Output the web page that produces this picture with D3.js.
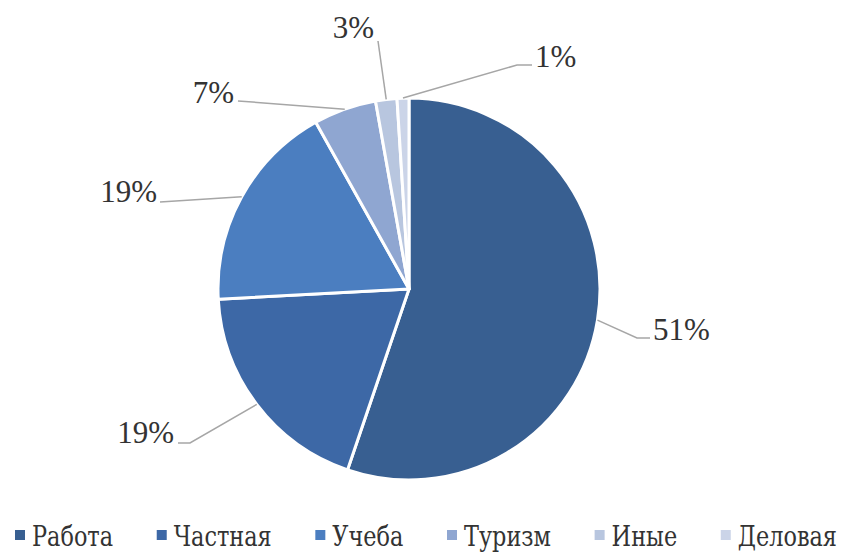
<!DOCTYPE html>
<html>
<head>
  <meta charset="UTF-8">
  <title>Цели поездок</title>
  <script src="https://d3js.org/d3.v7.min.js"></script>
  <style>
    body {
      margin: 0;
      background: #fff;
    }
    .leader {
      fill: none;
      stroke: #a6a6a6;
      stroke-width: 1.5;
    }
  </style>
</head>
<body>
  <svg id="chart" width="843" height="552"></svg>

  <script>
    // data (slice shares estimated from the angles)
    const categories = ["Работа", "Частная", "Учеба", "Туризм", "Иные", "Деловая"];
    const shares = [55.1, 18.9, 17.7, 5.3, 1.8, 1.0];
    const pctLabels = ["51%", "19%", "19%", "7%", "3%", "1%"];
    const colors = ["#385f91", "#3d68a6", "#4b7ec0", "#8fa6d1", "#b8c6df", "#cbd4e8"];

    // label placement (text anchor + leader elbow), kept apart from the data
    const labelLayout = [
      { x: 653, y: 340, anchor: "start", pts: [[637, 338], [650, 338]] },
      { x: 174, y: 443, anchor: "end", pts: [[190, 443], [178, 443]] },
      { x: 157, y: 202, anchor: "end", pts: [[160, 202]] },
      { x: 234, y: 103, anchor: "end", pts: [[238, 101]] },
      { x: 374, y: 38, anchor: "end", pts: [[378, 41]] },
      { x: 535, y: 67, anchor: "start", pts: [[517, 65], [532, 65]] }
    ];

    const svg = d3.select("#chart");
    const cx = 409, cy = 289, radius = 191;

    const data = categories.map((c, i) => ({ key: c, value: shares[i], label: pctLabels[i], i: i }));

    const pie = d3.pie()
      .value(d => d.value)
      .sort(null);

    const arc = d3.arc()
      .innerRadius(0)
      .outerRadius(radius);

    const arcs = pie(data);

    const g = svg.append("g")
      .attr("transform", `translate(${cx},${cy})`);

    g.selectAll("path.slice")
      .data(arcs)
      .enter().append("path")
      .attr("class", "slice")
      .attr("d", arc)
      .attr("fill", d => colors[d.data.i])
      .attr("stroke", "#fff")
      .attr("stroke-width", 3)
      .attr("stroke-linejoin", "round");

    // leader lines start at the rim, in the middle of each slice
    const rim = d3.arc().innerRadius(radius).outerRadius(radius);

    svg.selectAll("polyline.leader")
      .data(arcs)
      .enter().append("polyline")
      .attr("class", "leader")
      .attr("points", d => {
        const c = rim.centroid(d);
        const start = [c[0] + cx, c[1] + cy];
        return [start].concat(labelLayout[d.data.i].pts).map(p => p.join(",")).join(" ");
      });

    svg.selectAll("text.pct")
      .data(arcs)
      .enter().append("text")
      .attr("class", "pct")
      .attr("x", d => labelLayout[d.data.i].x)
      .attr("y", d => labelLayout[d.data.i].y)
      .attr("text-anchor", d => labelLayout[d.data.i].anchor)
      .style("font-family", '"Liberation Serif"')
      .style("font-size", "31px")
      .style("fill", "#333")
      .text(d => d.data.label);

    // legend along the bottom, spread evenly from left to right
    // (Cyrillic set in DejaVu Serif, squeezed to a Times-like width)
    const squeeze = 0.8;
    const legend = svg.append("g").attr("class", "legend");
    const items = legend.selectAll("g")
      .data(data)
      .enter().append("g");

    items.append("rect")
      .attr("width", 10)
      .attr("height", 10)
      .attr("y", 530)
      .attr("fill", d => colors[d.i]);

    items.append("text")
      .attr("transform", `translate(17,546) scale(${squeeze},1)`)
      .style("font-family", '"DejaVu Serif"')
      .style("font-size", "28px")
      .style("fill", "#333")
      .text(d => d.key);

    const widths = items.nodes().map(n => 17 + squeeze * n.querySelector("text").getComputedTextLength());
    const left = 15, right = 837;
    const gap = (right - left - d3.sum(widths)) / (widths.length - 1);
    let pos = left;
    items.attr("transform", (d, i) => {
      const t = `translate(${pos},0)`;
      pos += widths[i] + gap;
      return t;
    });
  </script>
</body>
</html>
